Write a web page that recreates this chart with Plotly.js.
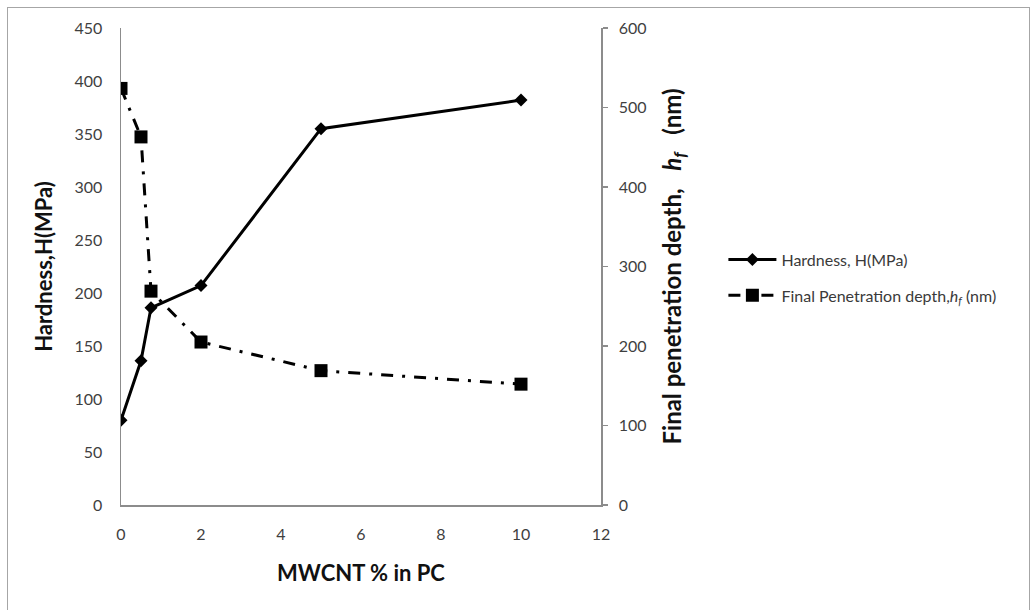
<!DOCTYPE html>
<html>
<head>
<meta charset="utf-8">
<script src="https://cdn.plot.ly/plotly-3.0.1.min.js"></script>
<style>
  html, body { margin: 0; padding: 0; background: #fff; }
  #frame { position: absolute; left: 7px; top: 7px; width: 1023px; height: 620px; border: 1.5px solid #a6a6a6; box-sizing: border-box; }
  #chart { position: absolute; left: 0; top: 0; width: 1032px; height: 610px; }
</style>
</head>
<body>
<div id="frame"></div>
<div id="chart"></div>
<script>
const mwcnt = [0, 0.5, 0.75, 2, 5, 10];
const hardness = [80, 136, 186, 207, 355, 382];
const penetration = [524, 463, 269, 205, 169, 152];
const xTicks = [0, 2, 4, 6, 8, 10, 12];
const leftTicks = [0, 50, 100, 150, 200, 250, 300, 350, 400, 450];
const rightTicks = [0, 100, 200, 300, 400, 500, 600];

const FONT = 'Lato, "Open Sans", sans-serif';
const AX = '#8c8c8c';
const TICKC = '#3f3f3f';

const traces = [
  {
    x: mwcnt, y: hardness, name: 'Hardness, H(MPa)', type: 'scatter', mode: 'lines+markers',
    legendgroup: 'a',
    line: {color: '#000', width: 3},
    marker: {symbol: 'diamond', size: 10, color: '#000'},
    yaxis: 'y'
  },
  {
    x: mwcnt, y: penetration, name: 'Final Penetration depth,<i>h</i><sub><i>f</i></sub> (nm)', type: 'scatter', mode: 'lines+markers',
    legendgroup: 'b',
    line: {color: '#000', width: 3, dash: '12px,9px,3px,9px'},
    marker: {symbol: 'square', size: 13, color: '#000'},
    yaxis: 'y2'
  }
];

const layout = {
  width: 1032, height: 610,
  margin: {l: 121, r: 431, t: 28, b: 105},
  paper_bgcolor: 'rgba(0,0,0,0)',
  plot_bgcolor: 'rgba(0,0,0,0)',
  font: {family: FONT, color: TICKC, size: 16},
  showlegend: true,
  legend: {x: 1.255, xanchor: 'left', y: 0.55, yanchor: 'top', itemwidth: 48, font: {family: FONT, size: 16, color: '#3a3a3a'}, bgcolor: 'rgba(0,0,0,0)', tracegroupgap: 12},
  xaxis: {
    range: [0, 12], tickvals: xTicks, ticktext: xTicks.map(String),
    showgrid: false, zeroline: false, showline: true, linecolor: AX, linewidth: 1.5,
    ticks: 'outside', ticklen: 14, tickcolor: 'rgba(0,0,0,0)',
    tickfont: {family: FONT, size: 16, color: TICKC},
    title: {text: 'MWCNT % in PC', font: {family: FONT, size: 22, color: '#111', weight: 'bold'}, standoff: 24}
  },
  yaxis: {
    range: [0, 450], tickvals: leftTicks, ticktext: leftTicks.map(String),
    showgrid: false, zeroline: false, showline: true, linecolor: AX, linewidth: 1.5,
    ticks: 'outside', ticklen: 14, tickcolor: 'rgba(0,0,0,0)',
    tickfont: {family: FONT, size: 16, color: TICKC},
    title: {text: 'Hardness,H(MPa)', font: {family: FONT, size: 22, color: '#111', weight: 'bold'}, standoff: 16}
  },
  yaxis2: {
    range: [0, 600], tickvals: rightTicks, ticktext: rightTicks.map(String),
    overlaying: 'y', side: 'right', anchor: 'x',
    showgrid: false, zeroline: false, showline: true, linecolor: AX, linewidth: 1.5,
    ticks: 'outside', ticklen: 5, tickcolor: AX, tickwidth: 1.5,
    ticklabelstandoff: 8,
    tickfont: {family: FONT, size: 16, color: TICKC},
    title: {text: 'Final penetration depth,&nbsp;&nbsp;&nbsp;<i>h</i><sub><i>f</i></sub>&nbsp;&nbsp;&nbsp;(nm)', font: {family: FONT, size: 24, color: '#111', weight: 'bold'}, standoff: 18}
  }
};

Plotly.newPlot('chart', traces, layout, {displayModeBar: false, staticPlot: true});
</script>
</body>
</html>
